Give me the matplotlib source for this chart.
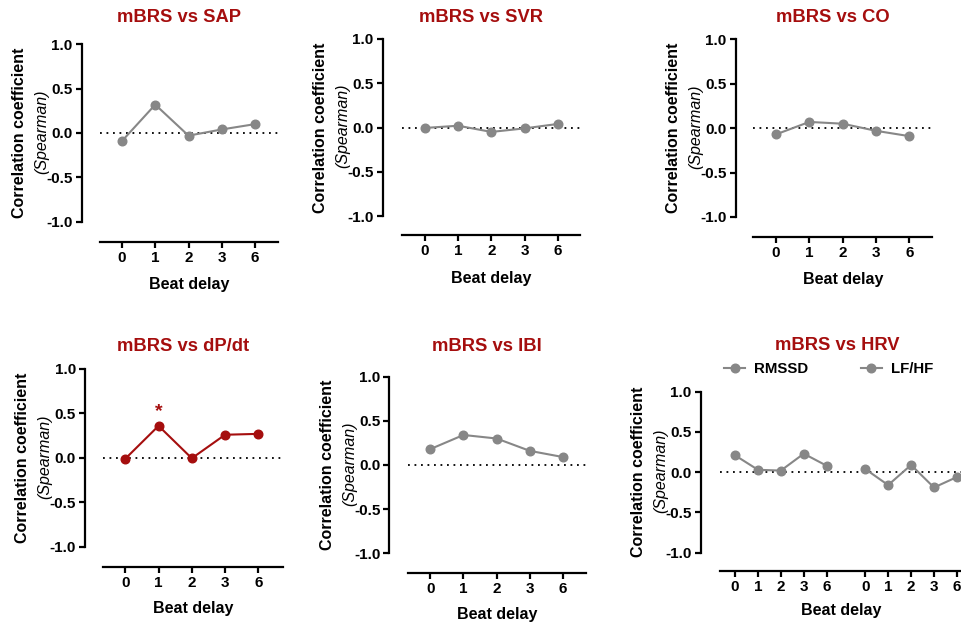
import numpy as np
import matplotlib
matplotlib.use("Agg")
import matplotlib.pyplot as plt

plt.rcParams['font.family'] = ['Liberation Sans', 'DejaVu Sans']
plt.rcParams['axes.unicode_minus'] = False

# ---------------- data ----------------
delays = ['0', '1', '2', '3', '6']
yticks = [-1.0, -0.5, 0.0, 0.5, 1.0]

sap = [-0.09, 0.32, -0.03, 0.04, 0.10]
svr = [-0.005, 0.02, -0.05, -0.01, 0.04]
co = [-0.07, 0.07, 0.05, -0.03, -0.09]
dpdt = [-0.01, 0.36, -0.005, 0.26, 0.27]
ibi = [0.18, 0.34, 0.30, 0.16, 0.09]
rmssd = [0.21, 0.03, 0.02, 0.23, 0.08]
lfhf = [0.04, -0.16, 0.09, -0.19, -0.06]

titles = ['mBRS vs SAP', 'mBRS vs SVR', 'mBRS vs CO',
          'mBRS vs dP/dt', 'mBRS vs IBI', 'mBRS vs HRV']
series_names = ['RMSSD', 'LF/HF']

GRAY = '#878787'
RED = '#a50e0e'

W, H = 962, 625
fig = plt.figure(figsize=(W / 100, H / 100), dpi=100)

# pixel geometry per panel: yspine_x, xaxis_start, xaxis_end, xaxis_y, y(+1), y(-1), tick0, tick4, title_x, title_y, xlabel offset
layout = [
    dict(ys=81.7, xs=100.0, xe=278.0, xa=241.7, yt=44.3, yb=221.7, t0=122.0, t4=255.0, tx=179.0, ty=17.0, lo=43.0),
    dict(ys=382.7, xs=402.3, xe=580.0, xa=235.0, yt=39.0, yb=216.0, t0=425.0, t4=557.7, tx=481.5, ty=17.0, lo=43.0),
    dict(ys=735.7, xs=753.3, xe=932.3, xa=236.7, yt=39.3, yb=217.0, t0=776.0, t4=909.3, tx=833.0, ty=17.0, lo=43.0),
    dict(ys=85.0, xs=102.7, xe=282.7, xa=566.7, yt=369.0, yb=546.7, t0=125.3, t4=258.3, tx=183.0, ty=346.7, lo=42.0),
    dict(ys=389.3, xs=408.3, xe=586.0, xa=573.3, yt=376.7, yb=553.3, t0=430.3, t4=563.0, tx=487.0, ty=346.7, lo=41.0),
    dict(ys=700.7, xs=720.0, xe=962.0, xa=570.7, yt=391.7, yb=552.7, t0=735.0, t4=826.7, tx=837.0, ty=345.0, lo=40.0),
]


def make_axes(g, title):
    ppx = (g['t4'] - g['t0']) / 4.0
    ppy = (g['yb'] - g['yt']) / 2.0
    y0 = (g['yt'] + g['yb']) / 2.0
    top_pad = 12.0
    left = g['ys'] / W
    right = g['xe'] / W
    bottom = 1 - g['xa'] / H
    top = 1 - (g['yt'] - top_pad) / H
    ax = fig.add_axes([left, bottom, right - left, top - bottom])
    ax.set_xlim((g['ys'] - g['t0']) / ppx, (g['xe'] - g['t0']) / ppx)
    ax.set_ylim(-(g['xa'] - y0) / ppy, 1.0 + top_pad / ppy)
    ax.patch.set_visible(False)
    for s in ['top', 'right']:
        ax.spines[s].set_visible(False)
    ax.spines['left'].set_bounds(-1.0, 1.0)
    xb0 = (g['xs'] - g['t0']) / ppx
    xb1 = (g['xe'] - g['t0']) / ppx
    ax.spines['bottom'].set_bounds(xb0, xb1)
    for s in ['left', 'bottom']:
        ax.spines[s].set_linewidth(1.6)
    ax.tick_params(width=1.6, length=4.5, labelsize=11, pad=2)
    ax.set_yticks(yticks)
    ax.set_yticklabels([f'{v:.1f}' for v in yticks], fontweight='bold')
    ax.hlines(0, xb0, xb1, colors='black', linestyles=(0, (1, 2.6)), linewidth=1.3, zorder=1)
    # labels
    yc = 1 - y0 / H
    fig.text((g['ys'] - 62) / W, yc, 'Correlation coefficient', rotation=90,
             ha='center', va='center', fontsize=11.5, fontweight='bold')
    fig.text((g['ys'] - 40) / W, yc + 1.5 / H, '(Spearman)', rotation=90,
             ha='center', va='center', fontsize=11.5, fontstyle='italic')
    fig.text(g['tx'] / W, 1 - g['ty'] / H, title, ha='center', va='center',
             fontsize=13.2, fontweight='bold', color=RED)
    ax.set_xlabel('Beat delay', fontsize=11.5, fontweight='bold', va='center')
    xc = ((g['xs'] + g['xe']) / 2 - g['ys']) / (g['xe'] - g['ys'])
    ax.xaxis.set_label_coords(xc, -g['lo'] / (g['xa'] - g['yt'] + top_pad))
    return ax


panels = [sap, svr, co, dpdt, ibi]
colors = [GRAY, GRAY, GRAY, RED, GRAY]
for i in range(5):
    ax = make_axes(layout[i], titles[i])
    x = np.arange(len(delays))
    ax.plot(x, panels[i], color=colors[i], marker='o', markersize=6.2,
            linewidth=1.5, clip_on=False, zorder=3)
    ax.set_xticks(x)
    ax.set_xticklabels(delays, fontweight='bold')
    if i == 3:
        ax.annotate('*', xy=(1, dpdt[1]), xytext=(0, 10), textcoords='offset points',
                    ha='center', va='center', fontsize=14, fontweight='bold', color=RED)

# HRV panel
ax = make_axes(layout[5], titles[5])
x1 = np.arange(len(delays))
x2 = np.arange(len(delays)) + 5.68
l1, = ax.plot(x1, rmssd, color=GRAY, marker='o', markersize=6.2, linewidth=1.5,
              clip_on=False, zorder=3, label=series_names[0])
l2, = ax.plot(x2, lfhf, color=GRAY, marker='o', markersize=6.2, linewidth=1.5,
              clip_on=False, zorder=3, label=series_names[1])
ax.set_xticks(np.concatenate([x1, x2]))
ax.set_xticklabels(delays + delays, fontweight='bold')
leg = fig.legend(handles=[l1, l2], loc='center left',
                 bbox_to_anchor=(724 / W, 1 - 369.3 / H), ncol=2, frameon=False,
                 prop={'weight': 'bold', 'size': 10.8}, handlelength=1.4,
                 handletextpad=0.6, columnspacing=3.5, borderpad=0, borderaxespad=0)

fig.savefig('out.png', dpi=100)
